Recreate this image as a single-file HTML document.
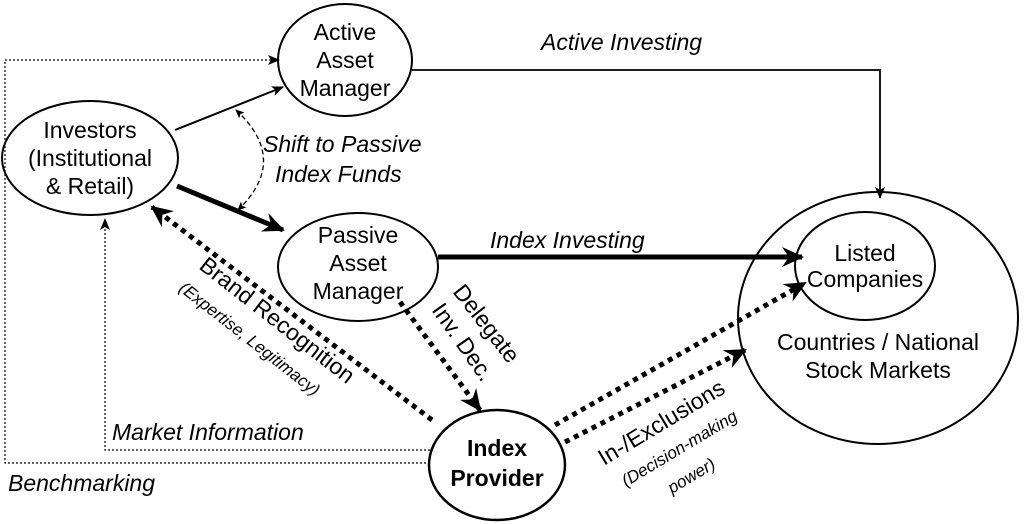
<!DOCTYPE html>
<html><head><style>body{margin:0;background:#fff}svg{display:block}text{font-family:"Liberation Sans",Arial,sans-serif;fill:#000}</style></head>
<body>
<svg width="1024" height="524" viewBox="0 0 1024 524" xmlns="http://www.w3.org/2000/svg">
<defs>
<marker id="a" markerWidth="12" markerHeight="10" refX="11" refY="5" orient="auto" markerUnits="userSpaceOnUse"><path d="M0,0 L12,5 L0,10 L3,5 z" fill="#000"/></marker>
<marker id="b" markerWidth="22" markerHeight="20" refX="20" refY="10" orient="auto" markerUnits="userSpaceOnUse"><path d="M0,0 L22,10 L0,20 L7,10 z" fill="#000"/></marker>
<marker id="c" markerWidth="9" markerHeight="8" refX="8" refY="4" orient="auto-start-reverse" markerUnits="userSpaceOnUse"><path d="M0,0 L9,4 L0,8 L2,4 z" fill="#000"/></marker>
</defs>
<g fill="none" stroke="#000">
<ellipse cx="345" cy="60" rx="67" ry="56" stroke-width="2"/>
<ellipse cx="90" cy="158" rx="88" ry="57" stroke-width="2"/>
<ellipse cx="358" cy="267" rx="80" ry="54" stroke-width="2"/>
<ellipse cx="497" cy="465" rx="68" ry="55" stroke-width="2.5"/>
<ellipse cx="878" cy="318" rx="140" ry="126" stroke-width="2"/>
<ellipse cx="865" cy="266" rx="70" ry="54" stroke-width="2"/>
<line x1="175" y1="130" x2="283" y2="87" stroke-width="2" marker-end="url(#a)"/>
<line x1="177" y1="186" x2="283" y2="230" stroke-width="5" marker-end="url(#b)"/>
<path d="M236,110 Q290,160 238,210" stroke-width="1.3" stroke-dasharray="5,3" marker-start="url(#c)" marker-end="url(#c)"/>
<path d="M412,70 H880 V198" stroke-width="1.8" marker-end="url(#a)"/>
<line x1="438" y1="257" x2="802" y2="257" stroke-width="5" marker-end="url(#b)"/>
<line x1="432" y1="420" x2="152" y2="207" stroke-width="5" stroke-dasharray="5,5" marker-end="url(#b)"/>
<line x1="400" y1="302" x2="480" y2="410" stroke-width="5" stroke-dasharray="5,5" marker-end="url(#b)"/>
<line x1="555" y1="425" x2="805" y2="283" stroke-width="5" stroke-dasharray="5,5" marker-end="url(#b)"/>
<line x1="565" y1="442" x2="745" y2="350" stroke-width="5" stroke-dasharray="5,5" marker-end="url(#b)"/>
<path d="M430,450 H105 V219" stroke-width="1.2" stroke-dasharray="2,2" marker-end="url(#a)"/>
<path d="M430,463 H5 V60 H279" stroke-width="1.2" stroke-dasharray="2,2" marker-end="url(#a)"/>
</g>
<g font-size="23" text-anchor="middle">
<text x="345" y="40">Active</text><text x="345" y="68">Asset</text><text x="345" y="96">Manager</text>
<text x="90" y="138">Investors</text><text x="90" y="166">(Institutional</text><text x="90" y="194">&amp; Retail)</text>
<text x="358" y="243">Passive</text><text x="358" y="271">Asset</text><text x="358" y="299">Manager</text>
<text x="497" y="456" font-weight="bold">Index</text><text x="497" y="486" font-weight="bold">Provider</text>
<text x="865" y="261">Listed</text><text x="865" y="287">Companies</text>
<text x="878" y="350">Countries / National</text><text x="878" y="378">Stock Markets</text>
</g>
<g font-size="23" font-style="italic">
<text x="541" y="50">Active Investing</text>
<text x="263" y="152">Shift to Passive</text><text x="275" y="182">Index Funds</text>
<text x="490" y="248">Index Investing</text>
<text x="112" y="440">Market Information</text>
<text x="8" y="491">Benchmarking</text>
</g>
<g font-size="23">
<text transform="translate(198,268) rotate(38)">Brand Recognition</text>
<text font-size="17" font-style="italic" transform="translate(178,290) rotate(38)">(Expertise, Legitimacy)</text>
<text transform="translate(452,292) rotate(52)">Delegate</text>
<text transform="translate(431,310) rotate(55)">Inv. Dec.</text>
<text transform="translate(604,466) rotate(-31)">In-/Exclusions</text>
<text font-size="17" font-style="italic" transform="translate(626,487) rotate(-31)">(Decision-making</text>
<text font-size="17" font-style="italic" transform="translate(672,494) rotate(-31)">power)</text>
</g>
</svg>
</body></html>
